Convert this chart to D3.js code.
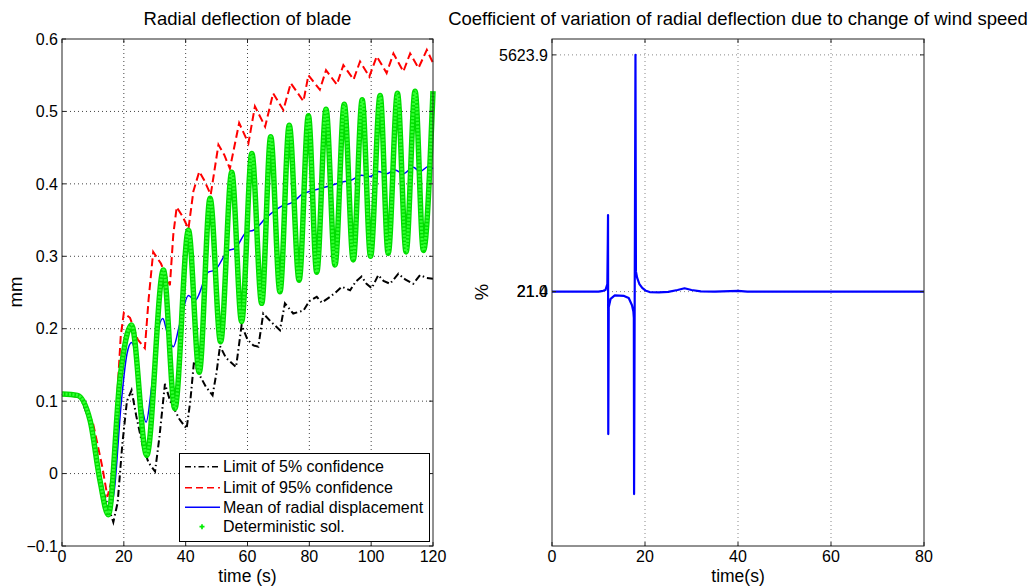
<!DOCTYPE html>
<html><head><meta charset="utf-8">
<script src="https://cdn.jsdelivr.net/npm/d3@7/dist/d3.min.js"></script>
<style>
body{margin:0;background:#fff;}
text{font-family:"Liberation Sans",Arial,sans-serif;font-size:16px;fill:#000;}
.ttl{font-size:18.5px;}
.lbl{font-size:17.5px;}
.ylbl{font-size:18.5px;}
.leg{font-size:16px;}
</style></head>
<body><svg id="c" width="1032" height="586"></svg>
<script>
// ---------- data: left panel ----------
const leftXTicks = [0,20,40,60,80,100,120];
const leftYTicks = [-0.1,0,0.1,0.2,0.3,0.4,0.5,0.6];
const legendLabels = ["Limit of 5% confidence","Limit of 95% confidence","Mean of radial displacement","Deterministic sol."];

const lowT = [0,6,10,13,16.6,18,19.5,21,22.5,24,26,28,30.1,31.5,33.3,35,38,40.3,41.5,42.7,44,46.5,48.7,50,51.1,53,56.3,58.1,60,61.9,63.5,65.1,67.5,70.5,72.1,74.8,78.1,80,82.4,84,86.7,88.5,90.5,93.2,95,96.9,98.5,100.2,102.3,104,106.1,108.8,111,113.6,115.8,118,120];
const lowV = [0.11,0.105,0.06,-0.02,-0.067,-0.04,0.04,0.10,0.115,0.08,0.04,0.015,0.003,0.05,0.124,0.10,0.075,0.062,0.10,0.155,0.14,0.12,0.108,0.14,0.176,0.16,0.147,0.205,0.185,0.177,0.175,0.221,0.21,0.198,0.235,0.221,0.225,0.238,0.244,0.236,0.244,0.25,0.258,0.253,0.265,0.272,0.262,0.256,0.274,0.266,0.262,0.276,0.268,0.262,0.274,0.27,0.269];

const highT = [0,6,10,13,14.7,16,17.5,19,20,22,24.5,26.8,28,29.5,32,34.9,36,37.1,39,40.9,42.5,44.4,46,48.1,50.6,52.5,54.3,57.3,60.3,62.4,65.7,68.3,71.6,74,78.1,79.7,83.4,85.4,88.9,91,94.3,96.4,99.4,101.8,105,107.2,110.4,112.6,115.3,118,120];
const highV = [0.11,0.105,0.07,0.01,-0.032,-0.01,0.08,0.19,0.222,0.215,0.185,0.173,0.24,0.306,0.29,0.26,0.33,0.368,0.355,0.338,0.39,0.417,0.405,0.385,0.454,0.44,0.421,0.484,0.456,0.507,0.479,0.525,0.502,0.539,0.514,0.55,0.53,0.557,0.537,0.564,0.544,0.569,0.548,0.576,0.553,0.58,0.555,0.58,0.56,0.585,0.567];

const meanT = [0,6,10,12.5,15.2,17,19,21,22.5,24,26,27.2,29,31,32.6,34,36,38,40.9,43,47.3,49.5,53.8,56,59.8,61.9,66.2,70.5,74.8,77.5,81.3,85.6,91,93.5,96.9,99.6,102.3,105,107.7,110.4,113.6,115.8,118.5,120];
const meanV = [0.11,0.105,0.05,-0.01,-0.052,-0.02,0.09,0.165,0.181,0.16,0.09,0.071,0.12,0.195,0.214,0.195,0.175,0.205,0.246,0.239,0.278,0.281,0.308,0.311,0.334,0.336,0.354,0.368,0.375,0.385,0.391,0.396,0.403,0.405,0.412,0.41,0.417,0.414,0.419,0.414,0.423,0.417,0.424,0.421];

const detT = [0,5,9.1,12.3,15,18.8,22.5,27.4,32.8,36.5,40.9,44.4,47.9,51.3,54.9,58.1,61.4,64.6,67.5,70.5,73.5,76.7,79.7,82.4,85.4,88.3,91.3,94.2,97.1,99.8,102.9,105.5,108.5,111.3,114.2,116.9,120];
const detV = [0.11,0.108,0.073,-0.01,-0.057,0.133,0.205,0.025,0.281,0.09,0.336,0.14,0.38,0.182,0.416,0.21,0.442,0.235,0.465,0.251,0.481,0.267,0.494,0.278,0.503,0.288,0.51,0.295,0.516,0.3,0.522,0.304,0.525,0.306,0.528,0.308,0.528];

// ---------- data: right panel ----------
const rightXTicks = [0,20,40,60,80];
const rightYTicks = [21.0,21.4,5623.9];
const cvT = [0,10,11,11.5,11.9,12.0,12.05,12.1,12.2,12.6,13.5,15.5,16.5,17.2,17.5,17.6,17.65,17.95,18.05,18.3,18.8,19.4,20.2,21,23,25,27,28.5,30,32,35,40,42,80];
const cvV = [21.4,21.4,40,60,200,1200,1834,-3350,-350,-150,-70,-80,-130,-300,-450,-600,-4770,5623.9,500,350,200,110,40,10,5,15,60,100,60,25,21,40,21.4,21.4];

// ---------- drawing ----------
const svg = d3.select("#c");
const gridCol = "#444";

function panel(x, y, xt, gridYVals, gridCol2){
  const g = svg.append("g");
  const [x0,x1] = x.range(), [y0,y1] = y.range();
  xt.forEach(t=>{ if(t!==x.domain()[0] && t!==x.domain()[1])
    g.append("line").attr("x1",x(t)).attr("x2",x(t)).attr("y1",y0).attr("y2",y1)
     .attr("stroke",gridCol2).attr("stroke-dasharray","1,3").attr("stroke-width",1);});
  gridYVals.forEach(t=>{ if(t!==y.domain()[0] && t!==y.domain()[1])
    g.append("line").attr("x1",x0).attr("x2",x1).attr("y1",y(t)).attr("y2",y(t))
     .attr("stroke",gridCol2).attr("stroke-dasharray","1,3").attr("stroke-width",1);});
  return g;
}
function frame(g, x, y, xt, yt, yfmt){
  const [x0,x1] = x.range(), [y0,y1] = y.range();
  g.append("rect").attr("x",x0).attr("y",y1).attr("width",x1-x0).attr("height",y0-y1)
   .attr("fill","none").attr("stroke","#222").attr("stroke-width",1);
  xt.forEach(t=>{
    g.append("line").attr("x1",x(t)).attr("x2",x(t)).attr("y1",y0).attr("y2",y0-4).attr("stroke","#222");
    g.append("line").attr("x1",x(t)).attr("x2",x(t)).attr("y1",y1).attr("y2",y1+4).attr("stroke","#222");
    g.append("text").attr("x",x(t)).attr("y",562).attr("text-anchor","middle").text(t);
  });
  yt.forEach(t=>{
    g.append("line").attr("x1",x0).attr("x2",x0+4).attr("y1",y(t)).attr("y2",y(t)).attr("stroke","#222");
    g.append("line").attr("x1",x1).attr("x2",x1-4).attr("y1",y(t)).attr("y2",y(t)).attr("stroke","#222");
    g.append("text").attr("x",x0-4).attr("y",y(t)).attr("dy","0.36em").attr("text-anchor","end").text(yfmt(t));
  });
}

// Left panel
const xL = d3.scaleLinear().domain([0,120]).range([62,433]);
const yL = d3.scaleLinear().domain([-0.1,0.6]).range([546,39]);
const gL = panel(xL, yL, leftXTicks, leftYTicks, gridCol);
const lineL = (T,V,curve)=>d3.line().x(i=>xL(T[i])).y(i=>yL(V[i])).curve(curve)(d3.range(T.length));

gL.append("path").attr("d",lineL(lowT,lowV,d3.curveLinear)).attr("fill","none")
  .attr("stroke","#000").attr("stroke-width",2).attr("stroke-dasharray","7,3,1.5,3");
gL.append("path").attr("d",lineL(highT,highV,d3.curveLinear)).attr("fill","none")
  .attr("stroke","#ff0000").attr("stroke-width",2).attr("stroke-dasharray","8,4");
gL.append("path").attr("d",lineL(meanT,meanV,d3.curveMonotoneX)).attr("fill","none")
  .attr("stroke","#0000ff").attr("stroke-width",1.5);
gL.append("path").attr("d",lineL(detT,detV,d3.curveMonotoneX)).attr("fill","none")
  .attr("stroke","#00dd00").attr("stroke-width",5.5);
gL.append("path").attr("d",lineL(detT,detV,d3.curveMonotoneX)).attr("fill","none")
  .attr("stroke","#33ff33").attr("stroke-width",3).attr("stroke-dasharray","2,1.5");
frame(gL, xL, yL, leftXTicks, leftYTicks, d3.format(".1~f"));

// legend
const lg = svg.append("g");
lg.append("rect").attr("x",179.5).attr("y",453.5).attr("width",250).attr("height",88)
  .attr("fill","#fff").attr("stroke","#000").attr("stroke-width",1);
const legY = [466.7,487.7,507.3,526.7];
const legStyles = [
  {c:"#000",w:1.5,d:"6,3,1.5,3"},
  {c:"#ff0000",w:1.5,d:"7,4"},
  {c:"#0000ff",w:1.5,d:null},
  null];
legendLabels.forEach((lab,i)=>{
  const s = legStyles[i];
  if(s){
    lg.append("line").attr("x1",185).attr("x2",220).attr("y1",legY[i]).attr("y2",legY[i])
      .attr("stroke",s.c).attr("stroke-width",s.w).attr("stroke-dasharray",s.d);
  } else {
    lg.append("path").attr("d",d3.symbol(d3.symbolCross,14)())
      .attr("transform",`translate(202,${legY[i]})`).attr("fill","#00ee00");
  }
  lg.append("text").attr("class","leg").attr("x",223).attr("y",legY[i]).attr("dy","0.36em").text(lab);
});

// titles / labels left
svg.append("text").attr("class","ttl").attr("x",247.5).attr("y",25).attr("text-anchor","middle").text("Radial deflection of blade");
svg.append("text").attr("class","lbl").attr("x",247.5).attr("y",581.5).attr("text-anchor","middle").text("time (s)");
svg.append("text").attr("class","ylbl").attr("transform","translate(22,292) rotate(-90)").attr("text-anchor","middle").text("mm");

// Right panel
const xR = d3.scaleLinear().domain([0,80]).range([552,924]);
const yR = d3.scaleLinear().domain([-6000,6000]).range([546,39]);
const gR = panel(xR, yR, rightXTicks, [21.4,5623.9], "#888");
gR.append("path").attr("d", d3.line().x(i=>xR(cvT[i])).y(i=>yR(cvV[i]))(d3.range(cvT.length)))
  .attr("fill","none").attr("stroke","#0000ff").attr("stroke-width",2.2).attr("stroke-linejoin","round");
frame(gR, xR, yR, rightXTicks, rightYTicks, d3.format(".1f"));

svg.append("text").attr("class","ttl").attr("x",738).attr("y",25).attr("text-anchor","middle")
  .text("Coefficient of variation of radial deflection due to change of wind speed");
svg.append("text").attr("class","lbl").attr("x",738).attr("y",581.5).attr("text-anchor","middle").text("time(s)");
svg.append("text").attr("class","ylbl").attr("transform","translate(488,292) rotate(-90)").attr("text-anchor","middle").text("%");
</script></body></html>
